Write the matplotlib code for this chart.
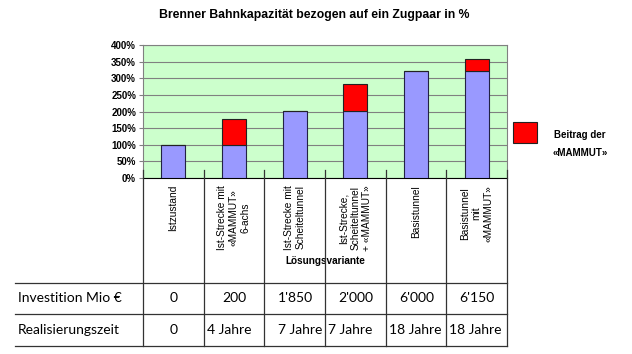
import matplotlib.pyplot as plt
from matplotlib.transforms import blended_transform_factory

plt.rcParams['font.family'] = ['Liberation Sans', 'DejaVu Sans']

# data
varianten = ["Istzustand", "Ist-Strecke mit\n«MAMMUT»\n6-achs", "Ist-Strecke mit\nScheiteltunnel",
             "Ist-Strecke,\nScheiteltunnel\n+ «MAMMUT»", "Basistunnel", "Basistunnel\nmit\n«MAMMUT»"]
basis = [100, 100, 203, 202, 323, 323]
mammut = [0, 78, 0, 80, 0, 35]
investition = ["0", "200", "1'850", "2'000", "6'000", "6'150"]
zeit = ["0", "4 Jahre", "7 Jahre", "7 Jahre", "18 Jahre", "18 Jahre"]
yticks = [0, 50, 100, 150, 200, 250, 300, 350, 400]

# cell alignment in the table
align1 = ['center', 'center', 'right', 'center', 'right', 'center']
align2 = ['center', 'left', 'right', 'left', 'left', 'left']

W, H = 632, 354
fig = plt.figure(figsize=(W / 100, H / 100), dpi=100)
ax = fig.add_axes([143 / W, 1 - 178 / H, (507 - 143) / W, (178 - 45) / H])
ax.set_facecolor('#ccffcc')

x = range(len(varianten))
ax.bar(x, basis, width=0.4, color='#9999ff', edgecolor='#222244', linewidth=0.8, zorder=3)
ax.bar(x, mammut, bottom=basis, width=0.4, color='#ff0000', edgecolor='#222222', linewidth=0.8, zorder=3)

ax.set_xlim(-0.5, len(varianten) - 0.5)
ax.set_ylim(0, 400)
ax.set_yticks(yticks)
ax.set_yticklabels([f"{v}%" for v in yticks], fontsize=7, fontweight='bold')
ax.yaxis.grid(True, color='#808080', linewidth=0.8, zorder=0)
ax.set_xticks([])
ax.tick_params(axis='y', length=3, width=0.8, pad=2, color='#808080')
for s in ['top', 'right', 'left']:
    ax.spines[s].set_color('#808080')
ax.spines['bottom'].set_color('black')

fig.text(314 / W, 1 - 15 / H, "Brenner Bahnkapazität bezogen auf ein Zugpaar in %",
         ha='center', va='center', fontsize=8.8, fontweight='bold')

# category area and table below the plot
tr = blended_transform_factory(ax.transData, ax.transAxes)
px = 1 / (178 - 45)  # one pixel in axes y units
y_top_tick = 8 * px
y_tab1 = -(283 - 178) * px
y_tab2 = -(314 - 178) * px
y_tab3 = -(346 - 178) * px
col_px = (507 - 143) / len(varianten)
x_left = -0.5 - (143 - 15) / col_px
x_right = len(varianten) - 0.5

for i in range(len(varianten) + 1):
    ax.plot([i - 0.5, i - 0.5], [y_top_tick, y_tab3], color='#333333', lw=0.9,
            transform=tr, clip_on=False, zorder=5)
for yy in [y_tab1, y_tab2, y_tab3]:
    ax.plot([x_left, x_right], [yy, yy], color='#333333', lw=0.9,
            transform=tr, clip_on=False)

for i, lab in enumerate(varianten):
    ax.text(i, -(185 - 178) * px, lab, rotation=90, ha='center', va='top',
            multialignment='center', fontsize=7.3, transform=tr, linespacing=1.25)

ax.text(2.5, -(261 - 178) * px, "Lösungsvariante", ha='center', va='center',
        fontsize=7.2, fontweight='bold', transform=tr)

tab_font = ['Lato', 'DejaVu Sans']
row1_y = (y_tab1 + y_tab2) / 2
row2_y = (y_tab2 + y_tab3) / 2
ax.text(x_left + 0.05, row1_y, "Investition Mio €", ha='left', va='center',
        fontsize=10, family=tab_font, transform=tr)
ax.text(x_left + 0.05, row2_y, "Realisierungszeit", ha='left', va='center',
        fontsize=10, family=tab_font, transform=tr)
pad = 3 / col_px
offs = {'center': 0, 'left': -0.5 + pad, 'right': 0.5 - pad}
for i in range(len(varianten)):
    ax.text(i + (0.5 - 4 * pad if align1[i] == 'right' else 0), row1_y, investition[i],
            ha=align1[i], va='center', fontsize=10, family=tab_font, transform=tr)
    ax.text(i + offs[align2[i]], row2_y, zeit[i], ha=align2[i], va='center',
            fontsize=10, family=tab_font, transform=tr)

# legend
fig.patches.append(plt.Rectangle((513 / W, 1 - 143 / H), 24 / W, 21 / H,
                                 transform=fig.transFigure, facecolor='#ff0000',
                                 edgecolor='#222222', lw=0.8))
fig.text(580 / W, 1 - 135 / H, "Beitrag der", ha='center', va='center',
         fontsize=7, fontweight='bold')
fig.text(580 / W, 1 - 153 / H, "«MAMMUT»", ha='center', va='center',
         fontsize=7, fontweight='bold')

fig.savefig('out.png', dpi=100)
